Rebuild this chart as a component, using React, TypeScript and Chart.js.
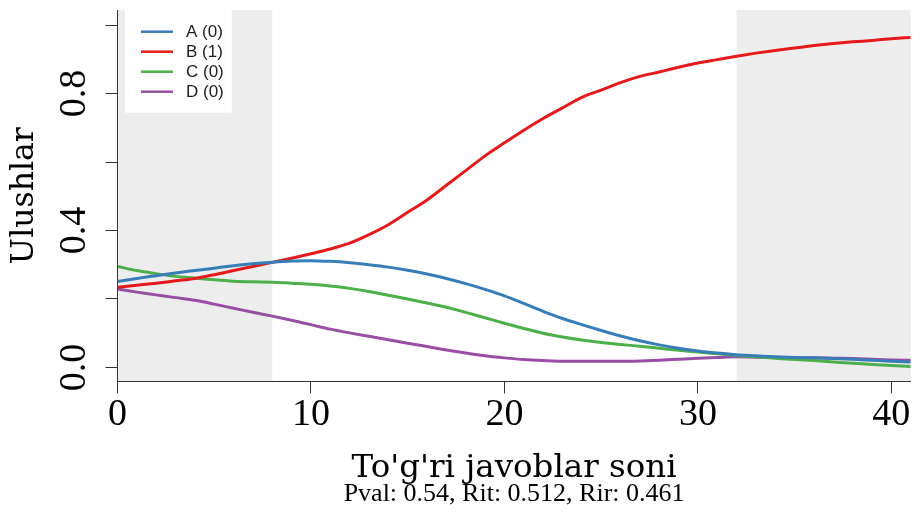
import { useEffect, useRef } from "react";
import { Chart, registerables } from "chart.js";

Chart.register(...registerables);

const xValues = [
  0, 1, 2, 3, 4, 5, 6, 7, 8, 9, 10, 11, 12, 13, 14, 15, 16, 17, 18, 19, 20,
  21, 22, 23, 24, 25, 26, 27, 28, 29, 30, 31, 32, 33, 34, 35, 36, 37, 38, 39, 40, 41,
];
const seriesLabels = ["A (0)", "B (1)", "C (0)", "D (0)"];
const seriesColors = ["#377EB8", "#E41A1C", "#4DAF4A", "#984EA3"];

const seriesA = [
  0.251, 0.26, 0.268, 0.276, 0.283, 0.29, 0.297, 0.303, 0.307, 0.311, 0.312,
  0.31, 0.306, 0.3, 0.293, 0.284, 0.273, 0.26, 0.245, 0.228, 0.209, 0.187,
  0.164, 0.143, 0.125, 0.108, 0.092, 0.078, 0.066, 0.056, 0.048, 0.042, 0.037,
  0.034, 0.031, 0.029, 0.028, 0.026, 0.024, 0.021, 0.018, 0.016,
];
const seriesB = [
  0.234, 0.24, 0.246, 0.253, 0.26, 0.271, 0.283, 0.295, 0.307, 0.319, 0.332,
  0.346, 0.363, 0.388, 0.417, 0.453, 0.489, 0.532, 0.575, 0.618, 0.656, 0.693,
  0.727, 0.758, 0.789, 0.81, 0.832, 0.85, 0.863, 0.877, 0.889, 0.899, 0.909,
  0.918, 0.926, 0.933, 0.94, 0.946, 0.951, 0.955, 0.96, 0.964,
];
const seriesC = [
  0.295, 0.283, 0.274, 0.266, 0.261, 0.256, 0.252, 0.25, 0.249, 0.246, 0.243,
  0.238, 0.231, 0.222, 0.211, 0.2, 0.188, 0.176, 0.161, 0.145, 0.129, 0.114,
  0.1, 0.089, 0.08, 0.073, 0.067, 0.062, 0.056, 0.05, 0.045, 0.04, 0.035,
  0.031, 0.027, 0.023, 0.02, 0.016, 0.012, 0.009, 0.006, 0.003,
];
const seriesD = [
  0.229, 0.22, 0.212, 0.204, 0.196, 0.185, 0.173, 0.161, 0.15, 0.138, 0.125,
  0.112, 0.101, 0.091, 0.081, 0.071, 0.061, 0.051, 0.042, 0.034, 0.028, 0.023,
  0.02, 0.018, 0.018, 0.018, 0.018, 0.019, 0.021, 0.024, 0.027, 0.029, 0.031,
  0.03, 0.029, 0.028, 0.028, 0.027, 0.026, 0.024, 0.022, 0.021,
];

const xTickValues = [0, 10, 20, 30, 40];
const yTickValues = [0, 0.2, 0.4, 0.6, 0.8, 1.0];
const yLabeledTicks = ["0.0", "0.4", "0.8"];
const bandStarts = [0, 32];
const bandEnds = [8, 41];

const xTitle = "To'g'ri javoblar soni";
const yTitle = "Ulushlar";
const subTitle = "Pval: 0.54, Rit: 0.512, Rir: 0.461";

const SERIF = '"Liberation Serif", "Times New Roman", serif';
const SERIF_WIDE = '"DejaVu Serif", serif';

const bandsPlugin = {
  id: "bands",
  beforeDraw(chart: any) {
    const { ctx, chartArea } = chart;
    const xs = chart.scales.x;
    ctx.save();
    ctx.fillStyle = "#EDEDED";
    for (let i = 0; i < bandStarts.length; i++) {
      const x0 = xs.getPixelForValue(bandStarts[i]);
      const x1 = xs.getPixelForValue(bandEnds[i]);
      ctx.fillRect(x0, chartArea.top, x1 - x0, chartArea.bottom - chartArea.top);
    }
    ctx.restore();
  },
};

const legendPlugin = {
  id: "boxLegend",
  afterDatasetsDraw(chart: any) {
    const { ctx, chartArea } = chart;
    const left = chartArea.left;
    const top = chartArea.top;
    ctx.save();
    ctx.fillStyle = "#FFFFFF";
    ctx.fillRect(left + 7.5, top, 106.7, 102.7);
    ctx.font = '17px "Liberation Sans", Arial, sans-serif';
    ctx.textBaseline = "middle";
    ctx.textAlign = "left";
    chart.data.datasets.forEach((ds: any, i: number) => {
      const y = top + 21.7 + 20 * i;
      ctx.strokeStyle = ds.borderColor;
      ctx.lineWidth = 2.5;
      ctx.beginPath();
      ctx.moveTo(left + 23.5, y);
      ctx.lineTo(left + 55.5, y);
      ctx.stroke();
      ctx.fillStyle = "#222222";
      ctx.fillText(ds.label, left + 68.5, y + 1);
    });
    ctx.restore();
  },
};

export default function App() {
  const canvasRef = useRef<HTMLCanvasElement | null>(null);

  useEffect(() => {
    document.body.style.margin = "0";
    const canvas = canvasRef.current;
    if (!canvas) return;
    const allSeries = [seriesA, seriesB, seriesC, seriesD];
    const chart = new Chart(canvas, {
      type: "line",
      data: {
        datasets: allSeries.map((s, i) => ({
          label: seriesLabels[i],
          data: xValues.map((x, j) => ({ x, y: s[j] })),
          borderColor: seriesColors[i],
          backgroundColor: seriesColors[i],
          borderWidth: 3,
          pointRadius: 0,
          tension: 0.4,
          cubicInterpolationMode: "monotone",
          fill: false,
        })),
      },
      options: {
        responsive: false,
        animation: false,
        events: [],
        layout: { padding: { top: 10, right: 6.3, left: 0, bottom: 0 } },
        plugins: {
          legend: { display: false },
          tooltip: { enabled: false },
          title: {
            display: true,
            text: subTitle,
            position: "bottom",
            fullSize: false,
            color: "#000",
            font: { family: SERIF, size: 26, weight: "normal", lineHeight: 1.2 },
            padding: { top: 0, bottom: 6.5 },
          },
        },
        scales: {
          x: {
            type: "linear",
            min: 0,
            max: 41,
            afterBuildTicks: (scale: any) => {
              scale.ticks = xTickValues.map((v) => ({ value: v }));
            },
            afterFit: (scale: any) => {
              scale.height = 96.8;
              scale.paddingLeft = 0;
              scale.paddingRight = 0;
              scale.paddingTop = 0;
              scale.paddingBottom = 0;
            },
            ticks: {
              autoSkip: false,
              maxRotation: 0,
              minRotation: 0,
              padding: 0,
              color: "#000",
              font: { family: SERIF, size: 38, lineHeight: 1.15 },
              callback: (v: any) => String(v),
            },
            grid: {
              drawOnChartArea: false,
              drawTicks: true,
              tickLength: 12,
              color: "#333",
              lineWidth: 1,
            },
            border: { display: true, color: "#333", width: 1 },
            title: {
              display: true,
              text: xTitle,
              color: "#000",
              font: { family: SERIF_WIDE, size: 32.5, lineHeight: 0.5 },
              padding: { top: 0, bottom: 2.1 },
            },
          },
          y: {
            type: "linear",
            min: -0.041,
            max: 1.044,
            afterBuildTicks: (scale: any) => {
              scale.ticks = yTickValues.map((v) => ({ value: v }));
            },
            afterFit: (scale: any) => {
              scale.width = 117.5;
              scale.paddingLeft = 0;
              scale.paddingRight = 0;
              scale.paddingTop = 0;
              scale.paddingBottom = 0;
            },
            ticks: {
              autoSkip: false,
              minRotation: 90,
              maxRotation: 90,
              crossAlign: "center",
              padding: 6.75,
              color: "#000",
              font: { family: SERIF, size: 38 },
              callback: (v: any) => {
                const s = Number(v).toFixed(1);
                return yLabeledTicks.includes(s) ? s : "";
              },
            },
            grid: {
              drawOnChartArea: false,
              drawTicks: true,
              tickLength: 12,
              color: "#333",
              lineWidth: 1,
            },
            border: { display: true, color: "#333", width: 1 },
            title: {
              display: true,
              text: yTitle,
              color: "#000",
              font: { family: SERIF_WIDE, size: 31.5, lineHeight: 1 },
              padding: { top: 9.25, bottom: 0 },
            },
          },
        },
      },
      plugins: [bandsPlugin, legendPlugin],
    } as any);
    return () => chart.destroy();
  }, []);

  return (
    <div style={{ width: 917, height: 516, position: "relative" }}>
      <canvas ref={canvasRef} width={917} height={516} style={{ display: "block" }} />
    </div>
  );
}
